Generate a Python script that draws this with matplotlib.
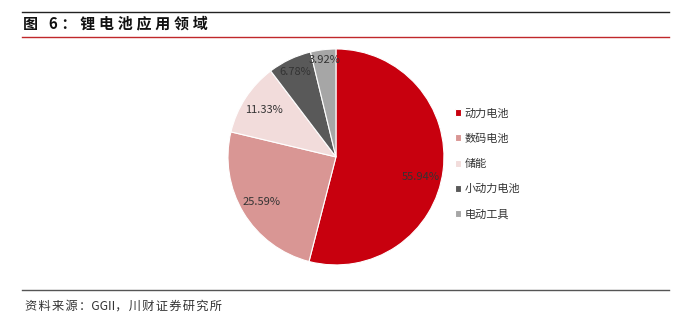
import matplotlib
matplotlib.use('Agg')
import numpy as np
import matplotlib.pyplot as plt
from matplotlib.lines import Line2D

plt.rcParams['font.family'] = ['Noto Sans CJK SC', 'DejaVu Sans']

# 数据
categories = ['动力电池', '数码电池', '储能', '小动力电池', '电动工具']
shares = [55.94, 25.59, 11.33, 6.78, 3.92]
labels = ['55.94%', '25.59%', '11.33%', '6.78%', '3.92%']
colors = ['#C8000E', '#D99694', '#F2DCDB', '#595959', '#A6A6A6']
title = '图 6：锂电池应用领域'
source_a = '资料来源：'
source_b = 'GGII'
source_c = '，川财证券研究所'

fig = plt.figure(figsize=(6.86, 3.28), dpi=100)

# 标题和分隔线
fig.add_artist(Line2D([0.032, 0.975], [0.963, 0.963], color='#222222', lw=1.0))
fig.text(0.034, 0.930, '\u2005'.join(title), fontsize=10.8, fontweight='bold',
         va='center', color='#111111')
fig.add_artist(Line2D([0.032, 0.975], [0.887, 0.887], color='#C0282A', lw=1.0))
fig.add_artist(Line2D([0.032, 0.975], [0.117, 0.117], color='#555555', lw=1.0))
hs = '\u200a'
fig.text(0.037, 0.068, hs.join(source_a) + source_b + hs.join(source_c),
         fontsize=8.8, style='italic', va='center', color='#333333')

# 饼图
ax = fig.add_axes([0.293, 0.11, 0.3935, 0.823])
wedges, _ = ax.pie(shares, colors=colors, startangle=90, counterclock=False,
                   wedgeprops=dict(edgecolor='white', linewidth=0.8))
ax.set_aspect('equal')

# 数据标签
for w, lab, d in zip(wedges, labels, [0.79, 0.8, 0.8, 0.87, 0.9]):
    ang = np.deg2rad((w.theta1 + w.theta2) / 2)
    ax.text(d * np.cos(ang), d * np.sin(ang) - (0.09 if d < 0.8 else 0), lab,
            ha='center', va='center', fontsize=8, color='#333333')

leg = fig.legend(wedges, categories, loc='center left', bbox_to_anchor=(0.648, 0.5),
                 frameon=False, fontsize=8, handlelength=0.6, handleheight=0.6,
                 handletextpad=0.3, labelspacing=1.35, labelcolor='#333333')

fig.savefig('out.png', dpi=100)
